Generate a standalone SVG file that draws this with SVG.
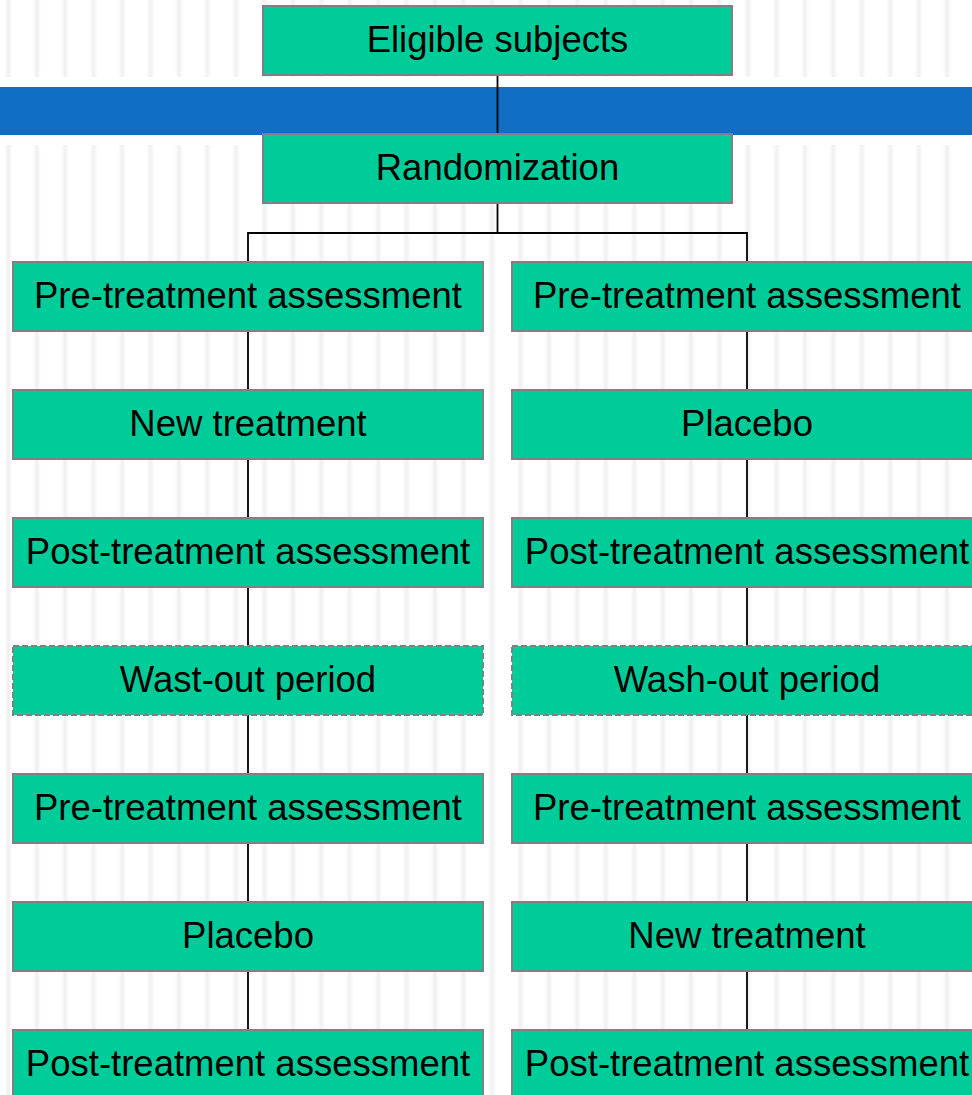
<svg xmlns="http://www.w3.org/2000/svg" width="972" height="1095" viewBox="0 0 972 1095">
  <defs>
    <linearGradient id="stripeGrad" x1="0" y1="0" x2="1" y2="0">
      <stop offset="0" stop-color="#eeeeee" stop-opacity="0"/>
      <stop offset="0.5" stop-color="#f0f0f0" stop-opacity="1"/>
      <stop offset="1" stop-color="#eeeeee" stop-opacity="0"/>
    </linearGradient>
    <pattern id="stripes" patternUnits="userSpaceOnUse" x="4.3" y="0" width="28.45" height="20">
      <rect x="0" y="0" width="8" height="20" fill="url(#stripeGrad)"/>
    </pattern>
    <style>
      .box { fill: #00cc99; stroke: #808080; stroke-width: 2; }
      .dashed { stroke-dasharray: 6 3; }
      .label { font-family: "Liberation Sans", Arial, sans-serif; font-size: 36.5px; fill: #000; text-anchor: middle; }
      .wire { stroke: #000; stroke-width: 1.8; fill: none; }
    </style>
  </defs>

  <!-- background -->
  <rect x="0" y="0" width="972" height="1095" fill="#ffffff"/>
  <rect x="0" y="0" width="972" height="77" fill="url(#stripes)"/>
  <rect x="0" y="145" width="972" height="950" fill="url(#stripes)"/>
  <rect x="0" y="87" width="972" height="48" fill="#106ec4"/>

  <!-- connectors -->
  <g id="connectors">
    <line class="wire" x1="497.5" y1="75" x2="497.5" y2="134"/>
    <line class="wire" x1="497.5" y1="203" x2="497.5" y2="233"/>
    <polyline class="wire" points="248,262 248,233 747,233 747,262"/>
    <line class="wire" x1="248" y1="331" x2="248" y2="1030"/>
    <line class="wire" x1="747" y1="331" x2="747" y2="1030"/>
  </g>

  <g id="eligible">
    <rect class="box" x="263" y="6" width="469" height="69"/>
    <text class="label" x="497.5" y="52">Eligible subjects</text>
  </g>
  <g id="randomization">
    <rect class="box" x="263" y="134" width="469" height="69"/>
    <text class="label" x="497.5" y="180">Randomization</text>
  </g>

  <!-- left arm -->
  <g id="left-pre1">
    <rect class="box" x="13" y="262" width="470" height="69"/>
    <text class="label" x="248" y="308">Pre-treatment assessment</text>
  </g>
  <g id="left-treat1">
    <rect class="box" x="13" y="390" width="470" height="69"/>
    <text class="label" x="248" y="436">New treatment</text>
  </g>
  <g id="left-post1">
    <rect class="box" x="13" y="518" width="470" height="69"/>
    <text class="label" x="248" y="564">Post-treatment assessment</text>
  </g>
  <g id="left-washout">
    <rect class="box dashed" x="13" y="646" width="470" height="69"/>
    <text class="label" x="248" y="692">Wast-out period</text>
  </g>
  <g id="left-pre2">
    <rect class="box" x="13" y="774" width="470" height="69"/>
    <text class="label" x="248" y="820">Pre-treatment assessment</text>
  </g>
  <g id="left-treat2">
    <rect class="box" x="13" y="902" width="470" height="69"/>
    <text class="label" x="248" y="948">Placebo</text>
  </g>
  <g id="left-post2">
    <rect class="box" x="13" y="1030" width="470" height="69"/>
    <text class="label" x="248" y="1076">Post-treatment assessment</text>
  </g>

  <!-- right arm -->
  <g id="right-pre1">
    <rect class="box" x="512" y="262" width="470" height="69"/>
    <text class="label" x="747" y="308">Pre-treatment assessment</text>
  </g>
  <g id="right-treat1">
    <rect class="box" x="512" y="390" width="470" height="69"/>
    <text class="label" x="747" y="436">Placebo</text>
  </g>
  <g id="right-post1">
    <rect class="box" x="512" y="518" width="470" height="69"/>
    <text class="label" x="747" y="564">Post-treatment assessment</text>
  </g>
  <g id="right-washout">
    <rect class="box dashed" x="512" y="646" width="470" height="69"/>
    <text class="label" x="747" y="692">Wash-out period</text>
  </g>
  <g id="right-pre2">
    <rect class="box" x="512" y="774" width="470" height="69"/>
    <text class="label" x="747" y="820">Pre-treatment assessment</text>
  </g>
  <g id="right-treat2">
    <rect class="box" x="512" y="902" width="470" height="69"/>
    <text class="label" x="747" y="948">New treatment</text>
  </g>
  <g id="right-post2">
    <rect class="box" x="512" y="1030" width="470" height="69"/>
    <text class="label" x="747" y="1076">Post-treatment assessment</text>
  </g>
</svg>
